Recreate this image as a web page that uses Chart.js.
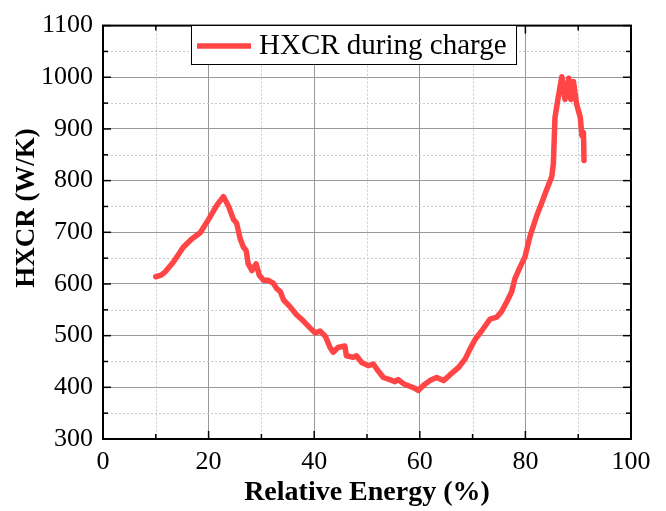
<!DOCTYPE html>
<html>
<head>
<meta charset="utf-8">
<script src="https://cdn.jsdelivr.net/npm/chart.js@4.4.1/dist/chart.umd.min.js"></script>
<style>
  html, body { margin: 0; padding: 0; background: #fff; }
  #wrap { width: 666px; height: 511px; }
</style>
</head>
<body>
<div id="wrap"><canvas id="hxcrChart" width="666" height="511"></canvas></div>
<script>
// relative energy (%) and heat exchanger conductance (W/K) during charge
const energy = [
  10.0, 11.0, 11.75, 13.3, 15.2, 16.8, 18.4, 20.0, 21.6, 22.8, 23.8, 24.7, 25.3, 26.0, 26.6, 27.1, 27.5,
  28.2, 29.0, 29.6, 30.4, 31.3, 32.3, 32.9, 33.6, 34.2, 35.5, 36.7, 37.7, 39.2, 40.2, 41.1, 42.1,
  43.0, 43.6, 44.5, 45.8, 46.1, 47.4, 48.0, 49.0, 50.2, 51.2, 52.1, 53.1, 54.3, 55.3, 55.9, 56.9,
  58.1, 59.1, 59.7, 60.7, 61.9, 63.2, 64.5, 65.7, 67.3, 68.6, 69.5, 70.5, 71.7, 73.3, 74.6, 75.5,
  76.5, 77.4, 78.0, 79.0, 79.9, 80.9, 82.1, 83.1, 84.0, 85.0, 85.3, 85.6, 86.1, 86.9, 87.5, 88.2,
  88.6, 89.1, 89.7, 90.4, 90.7, 91.0, 91.1
];
const hxcr = [
  614, 617, 623, 642, 671, 687, 699, 725, 753, 769, 750, 725, 718, 687, 671, 665, 639,
  626, 639, 617, 607, 607, 601, 591, 585, 569, 555, 540, 531, 515, 505, 509, 499,
  477, 468, 477, 480, 461, 458, 461, 448, 442, 445, 432, 419, 415, 411, 415, 407,
  402, 398, 394, 404, 413, 419, 413, 424, 438, 455, 474, 493, 509, 532, 536, 547,
  566, 585, 610, 633, 652, 693, 731, 757, 782, 808, 833, 922, 954, 1001, 957, 998,
  957, 992, 948, 922, 887, 893, 839
];
const xTicks = [0, 20, 40, 60, 80, 100];
const yTicks = [300, 400, 500, 600, 700, 800, 900, 1000, 1100];
const seriesLabel = 'HXCR during charge';
const yTitle = 'HXCR (W/K)';
const lineColor = '#ff4545';

const serif = '"Liberation Serif", "Times New Roman", serif';

// frame, minor grid, inward ticks, y title and the boxed legend
const framePlugin = {
  id: 'frame',
  beforeDatasetsDraw(chart) {
    const { ctx, chartArea: a, scales: { x, y } } = chart;
    ctx.save();
    ctx.strokeStyle = '#c8c8c8';
    ctx.lineWidth = 1;
    ctx.setLineDash([2, 2]);
    for (let i = 0; i < xTicks.length - 1; i++) {
      const px = Math.round(x.getPixelForValue((xTicks[i] + xTicks[i + 1]) / 2)) + 0.5;
      ctx.beginPath(); ctx.moveTo(px, a.top); ctx.lineTo(px, a.bottom); ctx.stroke();
    }
    for (let i = 0; i < yTicks.length - 1; i++) {
      const py = Math.round(y.getPixelForValue((yTicks[i] + yTicks[i + 1]) / 2)) + 0.5;
      ctx.beginPath(); ctx.moveTo(a.left, py); ctx.lineTo(a.right, py); ctx.stroke();
    }
    ctx.restore();
  },
  afterDraw(chart) {
    const { ctx, chartArea: a, scales: { x, y } } = chart;
    ctx.save();
    ctx.strokeStyle = '#000';
    ctx.lineWidth = 1.5;
    ctx.setLineDash([]);
    const tick = (x1, y1, x2, y2) => { ctx.beginPath(); ctx.moveTo(x1, y1); ctx.lineTo(x2, y2); ctx.stroke(); };
    for (let i = 0; i < xTicks.length; i++) {
      const px = x.getPixelForValue(xTicks[i]);
      tick(px, a.bottom, px, a.bottom - 8);
      tick(px, a.top, px, a.top + 8);
      if (i < xTicks.length - 1) {
        const pm = x.getPixelForValue((xTicks[i] + xTicks[i + 1]) / 2);
        tick(pm, a.bottom, pm, a.bottom - 5);
        tick(pm, a.top, pm, a.top + 5);
      }
    }
    for (let i = 0; i < yTicks.length; i++) {
      const py = y.getPixelForValue(yTicks[i]);
      tick(a.left, py, a.left + 8, py);
      tick(a.right, py, a.right - 8, py);
      if (i < yTicks.length - 1) {
        const pm = y.getPixelForValue((yTicks[i] + yTicks[i + 1]) / 2);
        tick(a.left, pm, a.left + 5, pm);
        tick(a.right, pm, a.right - 5, pm);
      }
    }
    ctx.lineWidth = 2;
    ctx.strokeRect(a.left, a.top, a.right - a.left, a.bottom - a.top);

    // vertical axis title, sitting a little above the plot centre
    ctx.save();
    ctx.translate(27, 208);
    ctx.rotate(-Math.PI / 2);
    ctx.fillStyle = '#000';
    ctx.font = 'bold 27px ' + serif;
    ctx.textAlign = 'center';
    ctx.textBaseline = 'middle';
    ctx.fillText(yTitle, 0, 0);
    ctx.restore();

    // legend box
    const bx = 191.5, by = 25.5, bw = 325, bh = 39;
    ctx.fillStyle = '#fff';
    ctx.fillRect(bx, by, bw, bh);
    ctx.lineWidth = 1;
    ctx.strokeRect(bx, by, bw, bh);
    ctx.strokeStyle = lineColor;
    ctx.lineWidth = 5.5;
    ctx.beginPath(); ctx.moveTo(197, by + bh / 2 + 1); ctx.lineTo(251, by + bh / 2 + 1); ctx.stroke();
    ctx.fillStyle = '#000';
    ctx.font = '29px ' + serif;
    ctx.textBaseline = 'middle';
    ctx.fillText(seriesLabel, 259, by + bh / 2 + 1);
    ctx.restore();
  }
};

new Chart(document.getElementById('hxcrChart'), {
  type: 'line',
  data: {
    datasets: [{
      label: seriesLabel,
      data: energy.map((e, i) => ({ x: e, y: hxcr[i] })),
      borderColor: lineColor,
      borderWidth: 5.5,
      borderJoinStyle: 'round',
      borderCapStyle: 'round',
      pointRadius: 0,
      tension: 0,
      fill: false
    }]
  },
  options: {
    responsive: false,
    animation: false,
    layout: { padding: { top: 19, right: 35, left: 0, bottom: 0 } },
    plugins: { legend: { display: false }, tooltip: { enabled: false } },
    scales: {
      x: {
        type: 'linear',
        min: 0, max: 100,
        afterBuildTicks(s) { s.ticks = xTicks.map(v => ({ value: v })); },
        afterFit(s) { s.height = 72; },
        grid: { color: '#999', lineWidth: 1, drawTicks: false },
        border: { display: false },
        ticks: { padding: 8, color: '#000', font: { family: serif, size: 26 }, maxRotation: 0,
                 callback: v => String(v) },
        title: {
          display: true, text: 'Relative Energy (%)', color: '#000',
          font: { family: serif, size: 28, weight: 'bold' }, padding: { top: 0, bottom: 1 }
        }
      },
      y: {
        min: 300, max: 1100,
        afterBuildTicks(s) { s.ticks = yTicks.map(v => ({ value: v })); },
        afterFit(s) { s.width = 103; },
        grid: { color: '#999', lineWidth: 1, drawTicks: false },
        border: { display: false },
        ticks: { padding: 10, color: '#000', font: { family: serif, size: 26 },
                 callback: v => String(v) },
        title: { display: false }
      }
    }
  },
  plugins: [framePlugin]
});
</script>
</body>
</html>
